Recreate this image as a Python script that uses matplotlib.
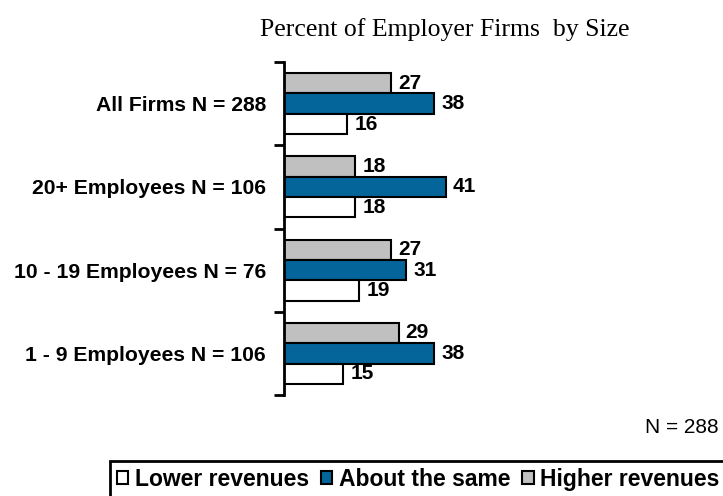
import numpy as np
import matplotlib.pyplot as plt

plt.rcParams['font.family'] = ['Liberation Sans', 'DejaVu Sans']

categories = ['All Firms N = 288', '20+ Employees N = 106',
              '10 - 19 Employees N = 76', '1 - 9 Employees N = 106']
higher = [27, 18, 27, 29]
same = [38, 41, 31, 38]
lower = [16, 18, 19, 15]
series_names = ['Lower revenues', 'About the same', 'Higher revenues']

blue = '#03659a'
grey = '#c0c0c0'

fig = plt.figure(figsize=(7.23, 4.96), dpi=100)
ax = fig.add_axes([284 / 723, 1 - 395 / 496, 395 / 723, 333 / 496])

y = np.arange(len(categories))
h = 0.245
bars_hi = ax.barh(y - h, higher, height=h, color=grey, edgecolor='black', linewidth=1.5)
bars_sm = ax.barh(y, same, height=h, color=blue, edgecolor='black', linewidth=1.5)
bars_lo = ax.barh(y + h, lower, height=h, color='white', edgecolor='black', linewidth=1.5)

for bars, vals in [(bars_hi, higher), (bars_sm, same), (bars_lo, lower)]:
    for b, v in zip(bars, vals):
        ax.text(v + 1.8, b.get_y() + b.get_height() / 2, str(v),
                ha='left', va='center', fontsize=15, fontweight='bold')

ax.set_xlim(0, 100)
ax.set_ylim(3.5, -0.5)
ax.set_yticks(y)
ax.set_yticklabels(categories, fontsize=15.2, fontweight='bold')
ax.tick_params(axis='y', which='major', length=0, pad=13)
ax.set_yticks(np.arange(-0.5, 4, 1), minor=True)
ax.tick_params(axis='y', which='minor', length=7, width=2, direction='out')
ax.set_xticks([])
for s in ['top', 'right', 'bottom']:
    ax.spines[s].set_visible(False)
ax.spines['left'].set_linewidth(2)

fig.text(0.36, 0.94, 'Percent of Employer Firms  by Size', family='Liberation Serif',
         fontsize=18.5, ha='left', va='center')
fig.text(0.994, 0.138, 'N = 288', fontsize=15, ha='right', va='center')

# legend box runs off the right and bottom edges of the picture
leg_left, leg_top = 110 / 723, 1 - 461 / 496
handles = [bars_lo[0], bars_sm[0], bars_hi[0]]
leg = fig.legend(handles, series_names, loc='upper left', bbox_to_anchor=(leg_left, leg_top),
                 ncol=3, frameon=False,
                 prop={'weight': 'bold', 'size': 16.5}, handlelength=0.5, handleheight=0.5,
                 handletextpad=0.3, columnspacing=0.5, borderpad=0.3, borderaxespad=0)
fig.patches.append(plt.Rectangle((leg_left, -0.2), 1, leg_top + 0.2, transform=fig.transFigure,
                                 fill=False, edgecolor='black', linewidth=2))

fig.savefig('out.png', dpi=100)
